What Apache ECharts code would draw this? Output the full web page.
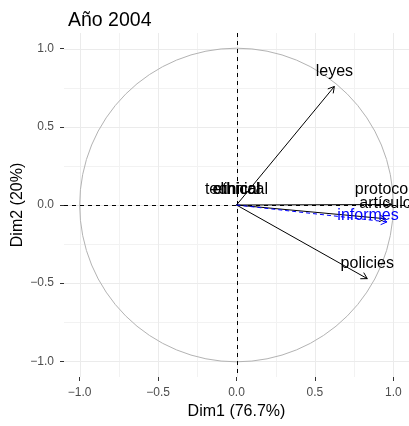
<!DOCTYPE html>
<html>
<head>
<meta charset="utf-8">
<script src="https://cdn.jsdelivr.net/npm/echarts@6/dist/echarts.min.js"></script>
<style>
  html, body { margin: 0; padding: 0; background: #ffffff; }
  #chart { width: 409px; height: 426px; }
</style>
</head>
<body>
<div id="chart"></div>
<script>
// Active variables: coordinates on the first two dimensions
const varNames = ['leyes', 'policies', 'protocolos', 'artículo', 'technical', 'ethical', 'clinical'];
const varDim1  = [0.624, 0.834, 0.990, 0.950, 0.0, 0.0, 0.0];
const varDim2  = [0.758, -0.471, 0.003, -0.088, 0.0, 0.0, 0.0];

// Supplementary quantitative variable
const supNames = ['informes'];
const supDim1  = [0.960];
const supDim2  = [-0.108];

// Axis breaks
const majorBreaks = [-1, -0.5, 0, 0.5, 1];
const minorBreaks = [-0.75, -0.25, 0.25, 0.75];
const axisRange = [-1.1, 1.1];

const titleText = 'Año 2004';
const xTitle = 'Dim1 (76.7%)';
const yTitle = 'Dim2 (20%)';

const FONT = '"Liberation Sans", Arial, sans-serif';
const fmt = v => (v < 0 ? '\u2212' : '') + Math.abs(v).toFixed(1);

const chart = echarts.init(document.getElementById('chart'), null, { renderer: 'canvas' });

function gridLineSeries(values, dir, color, width, dash) {
  return {
    type: 'custom',
    silent: true,
    z: 1,
    data: values.map(v => dir === 'x' ? [v, 0] : [0, v]),
    renderItem(params, api) {
      const cs = params.coordSys;
      if (dir === 'x') {
        const x = Math.round(api.coord([api.value(0), 0])[0]) + 0.5;
        return { type: 'line', shape: { x1: x, y1: cs.y, x2: x, y2: cs.y + cs.height },
                 style: { stroke: color, lineWidth: width, lineDash: dash || null } };
      }
      const y = Math.round(api.coord([0, api.value(1)])[1]) + 0.5;
      return { type: 'line', shape: { x1: cs.x, y1: y, x2: cs.x + cs.width, y2: y },
               style: { stroke: color, lineWidth: width, lineDash: dash || null } };
    }
  };
}

function arrowSeries(names, d1, d2, color, dashed, supplementary) {
  return {
    type: 'custom',
    silent: true,
    z: 5,
    clip: false,
    data: names.map((n, i) => [d1[i], d2[i], n]),
    renderItem(params, api) {
      const o = api.coord([0, 0]);
      const p = api.coord([api.value(0), api.value(1)]);
      const name = names[params.dataIndex];
      const children = [];
      const len = Math.hypot(p[0] - o[0], p[1] - o[1]);
      if (len > 1) {
        const a = Math.atan2(p[1] - o[1], p[0] - o[0]);
        const L = 7, ang = Math.PI / 6;
        const h1 = [p[0] - L * Math.cos(a - ang), p[1] - L * Math.sin(a - ang)];
        const h2 = [p[0] - L * Math.cos(a + ang), p[1] - L * Math.sin(a + ang)];
        children.push({ type: 'line', shape: { x1: o[0], y1: o[1], x2: p[0], y2: p[1] },
                        style: { stroke: color, lineWidth: 1, lineDash: dashed ? [4, 3] : null } });
        children.push({ type: 'polyline', shape: { points: [h1, p, h2] },
                        style: { stroke: color, lineWidth: 1, fill: null } });
      }
      children.push({
        type: 'text',
        x: supplementary ? p[0] - 19 : p[0],
        y: supplementary ? p[1] - 6 : p[1] - 15,
        style: { text: name, fill: color, font: '16px ' + FONT, align: 'center', verticalAlign: 'middle' }
      });
      return { type: 'group', children };
    }
  };
}

const option = {
  animation: false,
  backgroundColor: '#ffffff',
  title: {
    text: titleText, left: 63, top: 6,
    textStyle: { fontFamily: FONT, fontSize: 19.5, fontWeight: 'normal', color: '#000000' }
  },
  grid: { left: 64, right: 0, top: 33, bottom: 49, containLabel: false, outerBoundsMode: 'none' },
  xAxis: {
    type: 'value', min: axisRange[0], max: axisRange[1],
    name: xTitle, nameLocation: 'middle', nameGap: 27, nameMoveOverlap: false,
    nameTextStyle: { fontFamily: FONT, fontSize: 16, color: '#000000' },
    axisLine: { show: false, onZero: false },
    splitLine: { show: false },
    axisTick: { show: true, customValues: majorBreaks, length: 4, lineStyle: { color: '#333333', width: 1 } },
    axisLabel: { customValues: majorBreaks, formatter: fmt, margin: 10,
                 fontFamily: FONT, fontSize: 12, color: '#4D4D4D' }
  },
  yAxis: {
    type: 'value', min: axisRange[0], max: axisRange[1],
    name: yTitle, nameLocation: 'middle', nameGap: 38, nameMoveOverlap: false,
    nameTextStyle: { fontFamily: FONT, fontSize: 16, color: '#000000' },
    axisLine: { show: false, onZero: false },
    splitLine: { show: false },
    axisTick: { show: true, customValues: majorBreaks, length: 4, lineStyle: { color: '#333333', width: 1 } },
    axisLabel: { customValues: majorBreaks, formatter: fmt, margin: 10,
                 fontFamily: FONT, fontSize: 12, color: '#4D4D4D' }
  },
  series: [
    gridLineSeries(minorBreaks, 'x', '#F2F2F2', 1),
    gridLineSeries(minorBreaks, 'y', '#F2F2F2', 1),
    gridLineSeries(majorBreaks, 'x', '#EBEBEB', 1),
    gridLineSeries(majorBreaks, 'y', '#EBEBEB', 1),
    {
      type: 'custom', silent: true, z: 2,
      data: [[0, 0]],
      renderItem(params, api) {
        const c = api.coord([0, 0]);
        const r = api.size([1, 1])[0];
        return { type: 'circle', shape: { cx: c[0], cy: c[1], r },
                 style: { fill: null, stroke: '#B3B3B3', lineWidth: 1 } };
      }
    },
    Object.assign(gridLineSeries([0], 'x', '#000000', 1, [4, 4]), { z: 3 }),
    Object.assign(gridLineSeries([0], 'y', '#000000', 1, [4, 4]), { z: 3 }),
    arrowSeries(varNames, varDim1, varDim2, '#000000', false, false),
    arrowSeries(supNames, supDim1, supDim2, '#0000FF', true, true)
  ]
};

chart.setOption(option);
</script>
</body>
</html>
